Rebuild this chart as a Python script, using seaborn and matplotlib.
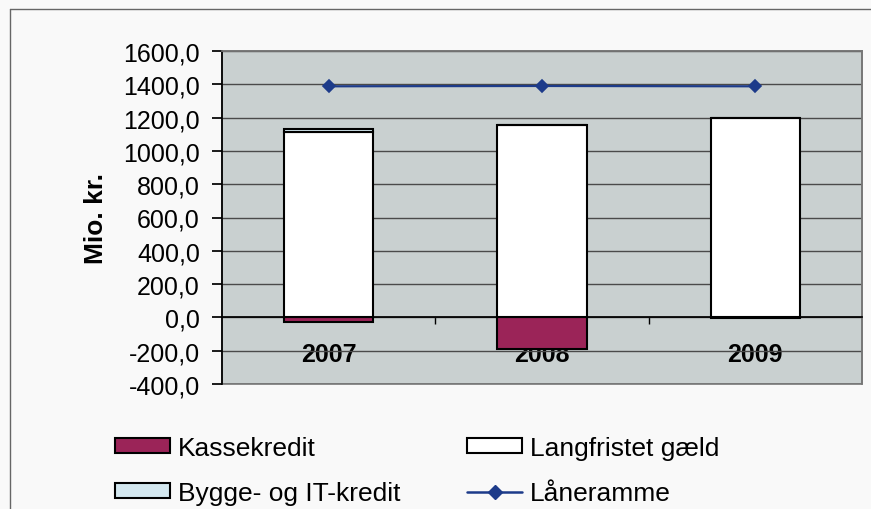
#!/usr/bin/python3

import matplotlib
matplotlib.use('Agg')
import matplotlib.pyplot as plt
from matplotlib.ticker import FuncFormatter, FixedLocator
from matplotlib.patches import Patch
from matplotlib.lines import Line2D
import seaborn as sns

# data (Mio. kr.)
years = ['2007', '2008', '2009']
kassekredit = [-25, -190, -5]
langfristet = [1115, 1155, 1195]
bygge_it = [15, 0, 0]
laaneramme = [1388, 1390, 1388]

bg_color = '#f9f9f9'
plot_color = '#c9d0d0'
kasse_color = '#9b2458'
bygge_color = '#d3e7ef'
line_color = '#1d3b8a'


def main():
	''' draws the credit chart'''

	sns.set_theme(style='white')
	plt.rcParams['font.family'] = ['Liberation Sans', 'DejaVu Sans']
	plt.rcParams['text.color'] = 'black'
	plt.rcParams['axes.labelcolor'] = 'black'

	fig = plt.figure(figsize=(8.71, 5.10), dpi=100, facecolor=bg_color)
	ax = fig.add_axes([222/871, 1-385/510, 640/871, 333/510])
	ax.set_facecolor(plot_color)

	# bars
	sns.barplot(x=years, y=kassekredit, color=kasse_color, width=0.42,
		edgecolor='black', linewidth=1.5, saturation=1, ax=ax, zorder=3)
	sns.barplot(x=years, y=langfristet, color='white', width=0.42,
		edgecolor='black', linewidth=1.5, saturation=1, ax=ax, zorder=3)
	sns.barplot(x=years, y=bygge_it, bottom=langfristet, color=bygge_color, width=0.42,
		edgecolor='black', linewidth=1.5, saturation=1, ax=ax, zorder=3)

	# credit line
	sns.pointplot(x=years, y=laaneramme, color=line_color, marker='D',
		markersize=6, linewidth=1.6, ax=ax, zorder=4)

	ax.set_ylim(-400, 1600)
	ax.set_xlim(-0.5, 2.5)
	ax.set_yticks(range(-400, 1601, 200))
	ax.yaxis.set_major_formatter(FuncFormatter(lambda v, p: ('%.1f' % v).replace('.', ',')))
	ax.grid(axis='y', color='#4a4a4a', linewidth=1)
	ax.set_axisbelow(True)

	# category axis crosses at zero
	for s in ['top', 'right']:
		ax.spines[s].set_color('#777777')
	ax.spines['left'].set_color('black')
	ax.spines['bottom'].set_position(('data', 0))
	ax.spines['bottom'].set_color('black')
	ax.patch.set_edgecolor('#777777')
	ax.patch.set_linewidth(1.2)
	ax.xaxis.set_minor_locator(FixedLocator([0.5, 1.5]))
	ax.tick_params(axis='x', which='major', length=0, pad=18, labelsize=18, colors='black')
	ax.tick_params(axis='x', which='minor', length=5, direction='out', bottom=True, color='black')
	ax.tick_params(axis='y', length=7, direction='out', left=True, labelsize=18, colors='black', pad=9)
	for lab in ax.get_xticklabels():
		lab.set_fontweight('bold')

	ax.set_ylabel('Mio. kr.', fontsize=19, fontweight='bold', labelpad=11, color='black')

	# legend
	handles = [
		Patch(facecolor=kasse_color, edgecolor='black', linewidth=1.5),
		Patch(facecolor=bygge_color, edgecolor='black', linewidth=1.5),
		Patch(facecolor='white', edgecolor='black', linewidth=1.5),
		Line2D([0], [0], color=line_color, marker='D', markersize=7, linewidth=1.8),
	]
	labels = ['Kassekredit', 'Bygge- og IT-kredit', 'Langfristet gæld', 'Låneramme']
	fig.legend(handles, labels, loc='upper left', bbox_to_anchor=(115/871, 1-437/510),
		ncol=2, frameon=False, fontsize=19, handlelength=2.1, handleheight=0.5,
		handletextpad=0.3, columnspacing=2.5, labelspacing=0.8, borderpad=0,
		borderaxespad=0, labelcolor='black')

	# outer chart frame
	fig.add_artist(Line2D([10/871, 1], [1-10/510, 1-10/510], color='#666666', linewidth=1))
	fig.add_artist(Line2D([10/871, 10/871], [0, 1-10/510], color='#666666', linewidth=1))

	fig.savefig('out.png', dpi=100, facecolor=bg_color)


if __name__ == '__main__':
	main()
